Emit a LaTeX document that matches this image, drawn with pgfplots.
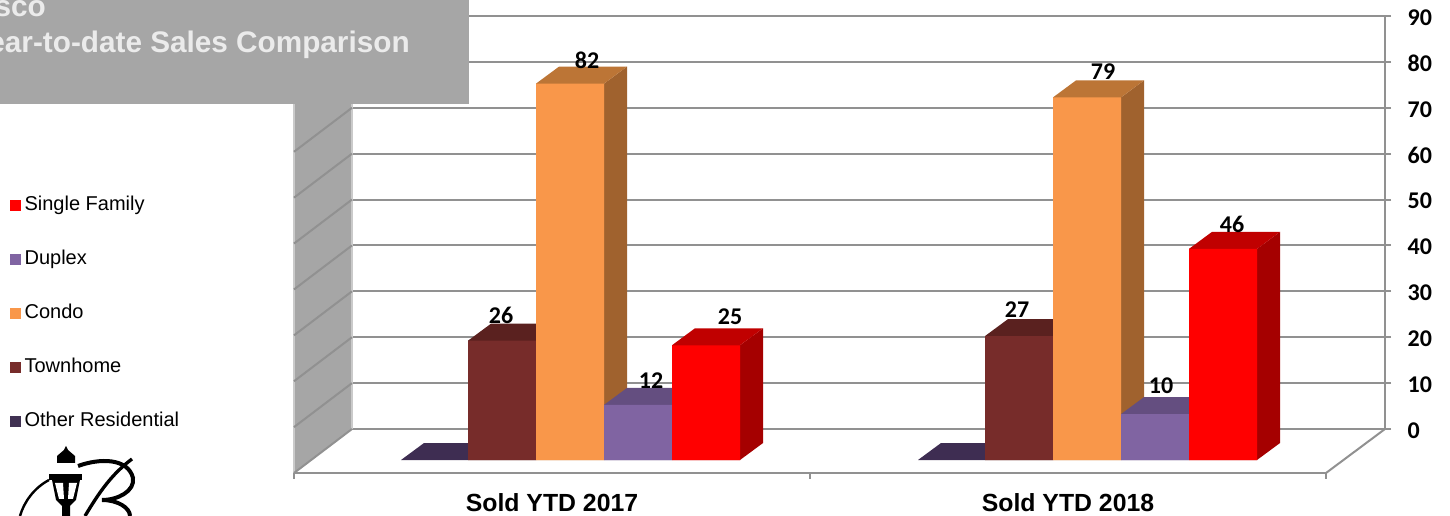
\documentclass[border=0pt]{standalone}
\usepackage{pgfplots}
\usepackage{fontspec}
\pgfplotsset{compat=1.18}
\setmainfont{Liberation Sans}
\newfontfamily\carlito{Carlito}
\definecolor{gridc}{HTML}{919191}
\definecolor{wallc}{HTML}{A6A6A6}
\definecolor{sfF}{HTML}{FF0000}\definecolor{sfS}{HTML}{A50000}\definecolor{sfT}{HTML}{C00000}
\definecolor{duF}{HTML}{8064A2}\definecolor{duS}{HTML}{604A7B}\definecolor{duT}{HTML}{644E80}
\definecolor{coF}{HTML}{F9974A}\definecolor{coS}{HTML}{A0622E}\definecolor{coT}{HTML}{BC7536}
\definecolor{toF}{HTML}{772C2A}\definecolor{toS}{HTML}{5A211F}\definecolor{toT}{HTML}{5A211F}
\definecolor{otF}{HTML}{403152}\definecolor{otT}{HTML}{3E2D52}
\pgfplotsset{
  bar3d/.style={ybar, bar width=68, bar shift=0pt, draw=none, forget plot},
  face/.style={fill=#1, draw=none, forget plot, mark=none},
  gl/.style={draw=gridc, line width=1.5pt, forget plot, mark=none},
}
\begin{document}
\begin{tikzpicture}[x=0.75pt,y=0.75pt]
\useasboundingbox (0,0) rectangle (1450,516);
\clip (0,0) rectangle (1450,516);
% back wall, floor and value axis
\begin{axis}[
  at={(264pt,65.25pt)}, anchor=south west, scale only axis,
  width=774.75pt, height=309.75pt,
  xmin=352, xmax=1385, ymin=0, ymax=90,
  clip=false,
  axis x line=none,
  axis y line=right,
  axis line style={draw=gridc, line width=1.5pt, -},
  ytick={0,10,20,30,40,50,60,70,80,90},
  ymajorgrids, grid style={draw=gridc, line width=1.5pt},
  tick style={draw=gridc, line width=1.5pt},
  major tick length=4.5pt,
  tick align=outside,
  yticklabel style={font=\carlito\bfseries\fontsize{18pt}{20pt}\selectfont, xshift=9pt, yshift=-1.2pt, text=black},
  /pgf/number format/assume math mode=true,
]
\addplot[face=wallc] coordinates {(294,-9.59)(352,0)(352,90)(294,80.41)} \closedcycle;
\addplot[gl, draw=wallc!60!white] coordinates {(294,-9.59)(294,80.41)};
\addplot[gl, draw=wallc!60!white] coordinates {(352,0)(352,90)};
\addplot[gl] coordinates {(294,-9.59)(352,0)};
\addplot[gl] coordinates {(294,0.41)(352,10)};
\addplot[gl] coordinates {(294,10.41)(352,20)};
\addplot[gl] coordinates {(294,20.41)(352,30)};
\addplot[gl] coordinates {(294,30.41)(352,40)};
\addplot[gl] coordinates {(294,40.41)(352,50)};
\addplot[gl] coordinates {(294,50.41)(352,60)};
\addplot[gl] coordinates {(294,60.41)(352,70)};
\addplot[gl] coordinates {(1326,-9.59)(1385,0)};
\end{axis}
% bars
\begin{axis}[
  at={(220.5pt,32.25pt)}, anchor=south west, scale only axis,
  width=774pt, height=354.75pt,
  xmin=294, xmax=1326, ymin=-2.83, ymax=100.22,
  clip=false,
  axis y line=none,
  axis x line*=bottom,
  axis line style={draw=gridc, line width=1.5pt, -},
  xtick={552,1068},
  xticklabels={Sold YTD 2017,Sold YTD 2018},
  minor xtick={294,810,1326},
  major tick length=0pt,
  minor tick length=4.5pt,
  tick align=outside,
  tick style={draw=gridc, line width=1.5pt},
  xticklabel style={font=\bfseries\fontsize{18.6pt}{21pt}\selectfont, yshift=-12pt, text=black},
  legend cell align=left,
  legend style={
    at={(axis cs:6,58)}, anchor=north west, draw=none, fill=none,
    font=\fontsize{15pt}{18pt}\selectfont,
    row sep=27pt,
    nodes={text height=10.5pt, text depth=3pt, inner sep=0pt, inner xsep=2.5pt},
  },
  legend image code/.code={\fill[#1] (0pt,-4.1pt) rectangle (8.25pt,4.1pt);},
]
\addlegendimage{fill=sfF, draw=none}
\addlegendimage{fill=duF, draw=none}
\addlegendimage{fill=coF, draw=none}
\addlegendimage{fill=toF, draw=none}
\addlegendimage{fill=otF, draw=none}
\legend{Single Family,Duplex,Condo,Townhome,Other Residential}
% Other Residential (0, 0)
\addplot[face=otT] coordinates {(401,0)(424,3.7)(468,3.7)(468,0)} \closedcycle;
\addplot[face=otT] coordinates {(918,0)(941,3.7)(985,3.7)(985,0)} \closedcycle;
% Townhome (26, 27)
\addplot[face=toT] coordinates {(468,26)(491,29.7)(559,29.7)(536,26)} \closedcycle;
\addplot[face=toT] coordinates {(985,27)(1008,30.7)(1076,30.7)(1053,27)} \closedcycle;
\addplot[bar3d, fill=toF] coordinates {(502,26)(1019,27)};
% Condo (82, 79)
\addplot[face=coS] coordinates {(604,0)(627,3.7)(627,85.7)(604,82)} \closedcycle;
\addplot[face=coS] coordinates {(1121,0)(1144,3.7)(1144,82.7)(1121,79)} \closedcycle;
\addplot[face=coT] coordinates {(536,82)(559,85.7)(627,85.7)(604,82)} \closedcycle;
\addplot[face=coT] coordinates {(1053,79)(1076,82.7)(1144,82.7)(1121,79)} \closedcycle;
\addplot[bar3d, fill=coF] coordinates {(570,82)(1087,79)};
% Duplex (12, 10)
\addplot[face=duT] coordinates {(604,12)(627,15.7)(695,15.7)(672,12)} \closedcycle;
\addplot[face=duT] coordinates {(1121,10)(1144,13.7)(1212,13.7)(1189,10)} \closedcycle;
\addplot[bar3d, fill=duF] coordinates {(638,12)(1155,10)};
% Single Family (25, 46)
\addplot[face=sfS] coordinates {(740,0)(763,3.7)(763,28.7)(740,25)} \closedcycle;
\addplot[face=sfS] coordinates {(1257,0)(1280,3.7)(1280,49.7)(1257,46)} \closedcycle;
\addplot[face=sfT] coordinates {(672,25)(695,28.7)(763,28.7)(740,25)} \closedcycle;
\addplot[face=sfT] coordinates {(1189,46)(1212,49.7)(1280,49.7)(1257,46)} \closedcycle;
\addplot[bar3d, fill=sfF] coordinates {(706,25)(1223,46)};
% value labels
\addplot[draw=none, mark=none, forget plot, nodes near coords, point meta=explicit symbolic,
  nodes near coords style={anchor=center, inner sep=0pt, text=black,
    font=\carlito\bfseries\fontsize{18pt}{20pt}\selectfont}]
  coordinates {(587,87.1)[82] (501,31.4)[26] (651,17.4)[12] (730,31.2)[25]
               (1103,84.7)[79] (1017,32.7)[27] (1161,16.1)[10] (1232,51.4)[46]};
\end{axis}
% title box
\fill[wallc] (0,412) rectangle (469,516);
\node[anchor=base east, inner sep=0pt, text=white!92!black, font=\bfseries\fontsize{22.3pt}{26pt}\selectfont] at (46,499) {Frisco};
\node[anchor=base east, inner sep=0pt, text=white!92!black, font=\bfseries\fontsize{22.3pt}{26pt}\selectfont] at (410,463) {Year-to-date Sales Comparison};
% logo
\fill[black] (66,70) -- (64,66) -- (57,60) -- (57,53) -- (75,53) -- (75,60) -- (68,66) -- cycle;
\fill[black] (49,42) rectangle (82,36);
\fill[black] (52,36) -- (80,36) -- (76,16) -- (70,10) -- (70,0) -- (62,0) -- (62,10) -- (56,16) -- cycle;
\fill[white] (55,33) -- (63,33) -- (64,17) -- (59,17) -- cycle;
\fill[white] (69,33) -- (77,33) -- (73,17) -- (68,17) -- cycle;
\draw[line width=1.8pt] (49,36) .. controls (34,28) and (24,14) .. (20,0);
\draw[line width=2.5pt] (85,0) .. controls (100,25) and (112,42) .. (132,57);
\draw[line width=3pt] (78,50) .. controls (100,58) and (128,58) .. (133,38) .. controls (135,25) and (118,16) .. (102,16) .. controls (118,16) and (130,8) .. (130,0);
\end{tikzpicture}
\end{document}
